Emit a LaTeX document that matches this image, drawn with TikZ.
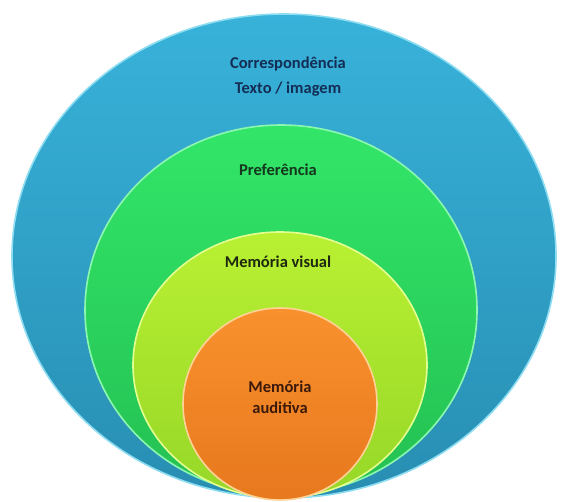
\documentclass[tikz,border=0pt]{standalone}
\usepackage{fontspec}
\setmainfont{Carlito}
\usetikzlibrary{shapes.geometric}
\definecolor{blueT}{RGB}{56,178,218}
\definecolor{blueB}{RGB}{40,142,178}
\definecolor{blueR}{RGB}{140,220,242}
\definecolor{grnT}{RGB}{50,230,105}
\definecolor{grnB}{RGB}{36,192,82}
\definecolor{grnR}{RGB}{140,248,175}
\definecolor{limT}{RGB}{185,240,50}
\definecolor{limB}{RGB}{150,215,40}
\definecolor{limR}{RGB}{228,255,145}
\definecolor{orgT}{RGB}{248,145,45}
\definecolor{orgB}{RGB}{232,120,30}
\definecolor{orgR}{RGB}{255,210,150}
\definecolor{txtBlue}{RGB}{20,45,85}
\definecolor{txtGrn}{RGB}{20,55,30}
\definecolor{txtLim}{RGB}{30,40,15}
\definecolor{txtOrg}{RGB}{60,25,10}
\tikzset{
  disc/.style={ellipse, inner sep=0pt, line width=1.6pt},
  lbl/.style={font=\bfseries\fontsize{16.5}{25}\selectfont, align=center, inner sep=0pt}
}
\begin{document}
\begin{tikzpicture}[x=1pt,y=-1pt]
\useasboundingbox (0,0) rectangle (567,501);
\node[disc, minimum width=544pt, minimum height=484pt, top color=blueT, bottom color=blueB, draw=blueR] (blue) at (284,256) {};
\node[disc, minimum width=392pt, minimum height=370pt, top color=grnT, bottom color=grnB, draw=grnR] (green) at (281,310) {};
\node[disc, minimum width=294pt, minimum height=266pt, top color=limT, bottom color=limB, draw=limR] (lime) at (280,365) {};
\node[disc, minimum width=194pt, minimum height=192pt, top color=orgT, bottom color=orgB, draw=orgR] (orange) at (280,404) {};
\node[lbl, text=txtBlue] (t1) at (288,77) {Correspondência\\Texto / imagem};
\node[lbl, text=txtGrn] (t2) at (278,170) {Preferência};
\node[lbl, text=txtLim] (t3) at (278,262) {Memória visual};
\node[lbl, text=txtOrg, font=\bfseries\fontsize{16.5}{21}\selectfont] (t4) at (280,397) {Memória\\auditiva};
\end{tikzpicture}
\end{document}
